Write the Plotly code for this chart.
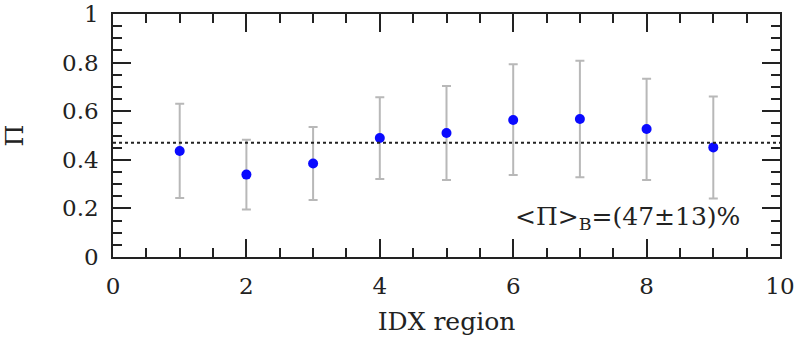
import plotly.graph_objects as go

# data
region = [1, 2, 3, 4, 5, 6, 7, 8, 9]
pi_val = [0.436, 0.339, 0.385, 0.490, 0.510, 0.564, 0.568, 0.527, 0.451]
err_hi = [0.631, 0.483, 0.535, 0.657, 0.704, 0.793, 0.808, 0.734, 0.661]
err_lo = [0.243, 0.195, 0.235, 0.321, 0.317, 0.337, 0.328, 0.317, 0.241]
mean_pi = 0.47

FONT = "DejaVu Serif"
INK = "#222222"

err_plus = [h - v for h, v in zip(err_hi, pi_val)]
err_minus = [v - l for v, l in zip(pi_val, err_lo)]

fig = go.Figure()

fig.add_trace(go.Scatter(
    x=region, y=pi_val,
    mode="markers",
    marker=dict(color="#0a0aff", size=10),
    error_y=dict(
        type="data", symmetric=False,
        array=err_plus, arrayminus=err_minus,
        color="#b8b8b8", thickness=2, width=4.5
    ),
    showlegend=False
))

fig.add_shape(
    type="line", xref="x", yref="y",
    x0=0, x1=10, y0=mean_pi, y1=mean_pi,
    line=dict(color=INK, width=2, dash="dot")
)

fig.add_annotation(
    x=9.43, y=0.16, xref="x", yref="y",
    xanchor="right", yanchor="middle",
    text="&lt;Π&gt;<sub>B</sub>=(47±13)%",
    showarrow=False,
    font=dict(family=FONT, size=25, color=INK)
)

axis_common = dict(
    showline=True, linecolor=INK, linewidth=1.5,
    mirror="ticks", ticks="inside", ticklen=18, tickwidth=1.5, tickcolor=INK,
    showgrid=False, zeroline=False, automargin=False,
    ticklabelstandoff=8,
    tickfont=dict(family=FONT, size=23, color=INK),
)

fig.update_layout(
    width=806, height=345,
    paper_bgcolor="white", plot_bgcolor="white",
    margin=dict(l=113, r=26, t=14, b=88),
    xaxis=dict(
        range=[0, 10], dtick=2, tick0=0,
        minor=dict(ticks="inside", dtick=0.5, ticklen=9, tickwidth=1.5, tickcolor=INK),
        title=dict(text="IDX region", font=dict(family=FONT, size=25, color=INK), standoff=14),
        **axis_common
    ),
    yaxis=dict(
        range=[0, 1], dtick=0.2, tick0=0,
        minor=dict(ticks="inside", dtick=0.05, ticklen=9, tickwidth=1.5, tickcolor=INK),
        title=dict(text="Π", font=dict(family=FONT, size=25, color=INK), standoff=34),
        **axis_common
    ),
)

# drop the browser's default 8px body margin so the figure sits flush in the window
fig.write_html(
    "out.html",
    config={"displayModeBar": False},
    post_script="document.body.style.margin = '0';"
)
